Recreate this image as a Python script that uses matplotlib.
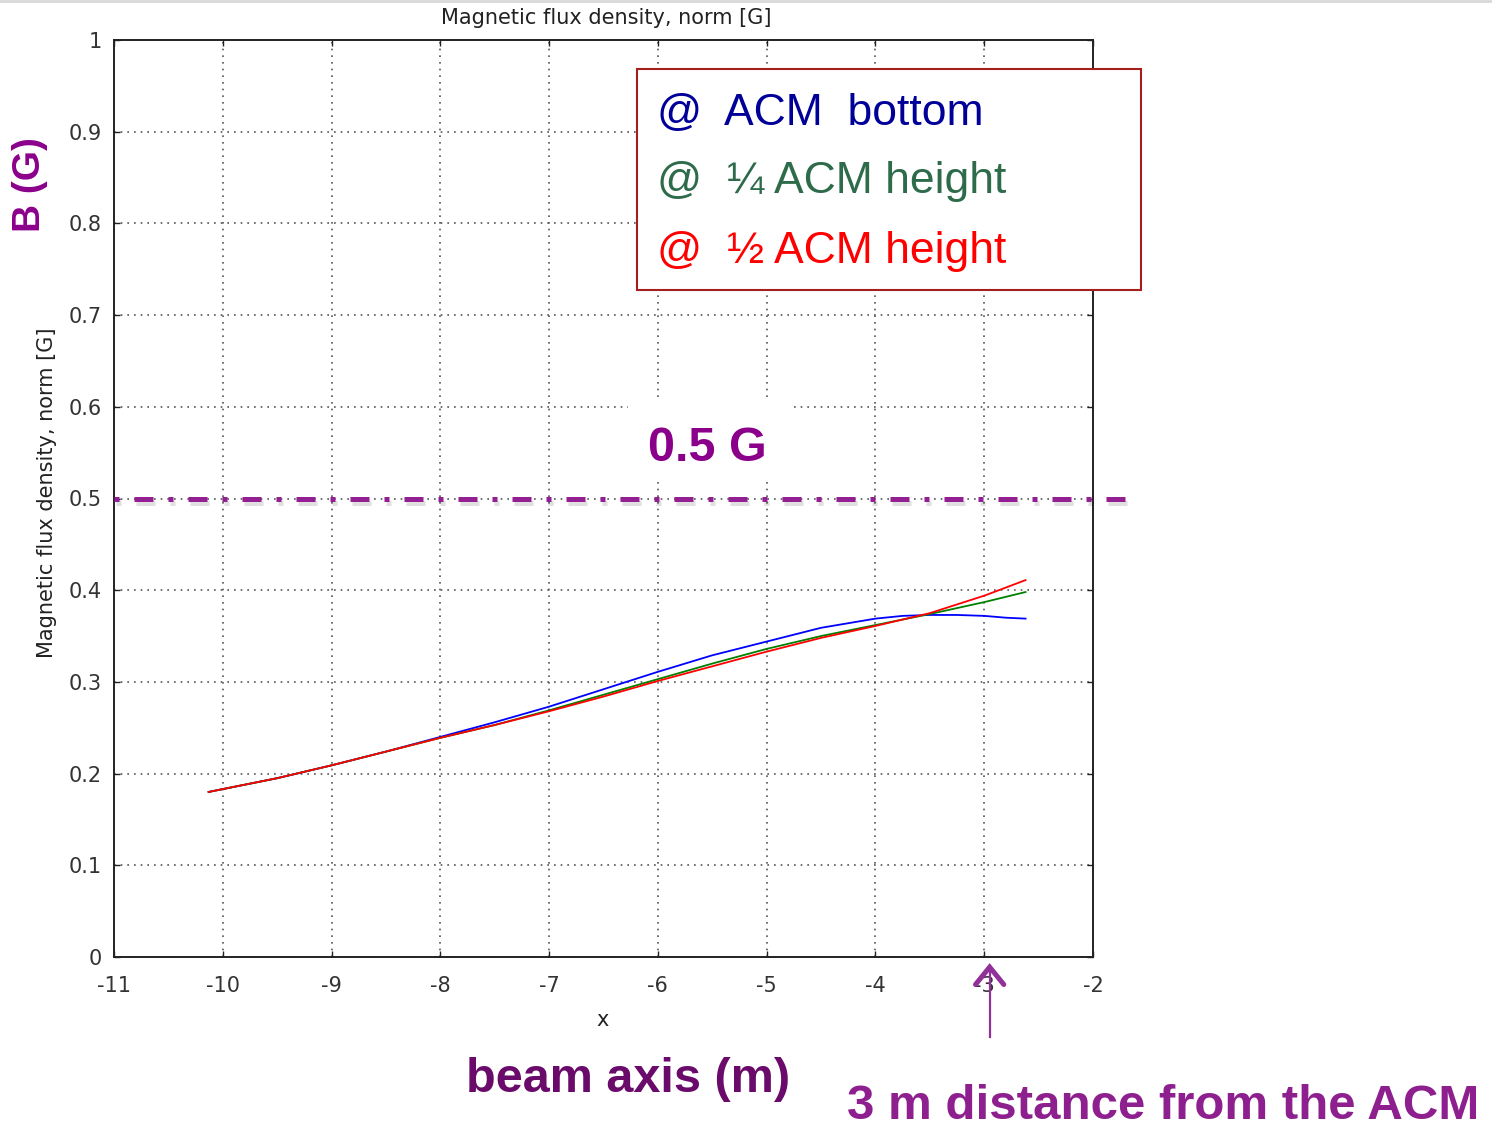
import numpy as np
import matplotlib
matplotlib.use("Agg")
import matplotlib.pyplot as plt
import matplotlib.patheffects as pe
from matplotlib.patches import Rectangle
from matplotlib.lines import Line2D

# field along the beam axis, three heights
x_bottom = [-10.13, -9.5, -9.0, -8.5, -8.0, -7.5, -7.0, -6.5, -6.0, -5.5, -5.0,
            -4.5, -4.0, -3.75, -3.5, -3.25, -3.0, -2.8, -2.62]
b_bottom = [0.180, 0.195, 0.209, 0.224, 0.240, 0.256, 0.273, 0.292, 0.311, 0.329, 0.344,
            0.359, 0.369, 0.372, 0.373, 0.373, 0.372, 0.370, 0.369]

x_quarter = [-10.13, -9.5, -9.0, -8.5, -8.0, -7.5, -7.0, -6.5, -6.0, -5.5, -5.0,
             -4.5, -4.0, -3.5, -3.0, -2.62]
b_quarter = [0.180, 0.195, 0.209, 0.224, 0.239, 0.253, 0.269, 0.286, 0.303, 0.320, 0.336,
             0.350, 0.362, 0.374, 0.387, 0.398]

x_half = [-10.13, -9.5, -9.0, -8.5, -8.0, -7.5, -7.0, -6.5, -6.0, -5.5, -5.0,
          -4.5, -4.0, -3.5, -3.0, -2.62]
b_half = [0.180, 0.195, 0.209, 0.224, 0.239, 0.253, 0.268, 0.284, 0.301, 0.317, 0.333,
          0.348, 0.361, 0.375, 0.394, 0.411]

limit_b = 0.5
xticks = list(range(-11, -1))
yticks = [0, 0.1, 0.2, 0.3, 0.4, 0.5, 0.6, 0.7, 0.8, 0.9, 1]
ytick_labels = ["0", "0.1", "0.2", "0.3", "0.4", "0.5", "0.6", "0.7", "0.8", "0.9", "1"]

W, H = 1492, 1128
fig = plt.figure(figsize=(W / 100, H / 100), dpi=100)
fig.patch.set_facecolor("white")

def fx(px):
    return px / W

def fy(py):
    return 1 - py / H

ax = fig.add_axes([fx(114), fy(957), fx(1093) - fx(114), fy(40) - fy(957)])
ax.set_xlim(-11, -2)
ax.set_ylim(0, 1)
ax.set_xticks(xticks)
ax.set_xticklabels([str(t) for t in xticks])
ax.set_yticks(yticks)
ax.set_yticklabels(ytick_labels)
ax.tick_params(direction="in", length=4.5, width=1.0, top=True, right=True,
               labelsize=15, labelcolor="#333333", color="#222222")
ax.tick_params(axis="x", pad=14)
ax.tick_params(axis="y", pad=9)
for s in ax.spines.values():
    s.set_linewidth(1.4)
    s.set_color("#222222")
ax.grid(True, color="#555555", linestyle=(0, (1, 3)), linewidth=1.2)
ax.set_axisbelow(True)

ax.plot(x_bottom, b_bottom, color="#0000ff", lw=1.3, zorder=3)
ax.plot(x_quarter, b_quarter, color="#008000", lw=1.3, zorder=4)
ax.plot(x_half, b_half, color="#ff0000", lw=1.3, zorder=5)

# 0.5 G limit, runs a little past the frame
limit = Line2D([-11, -1.63], [limit_b, limit_b], color="#931f93", lw=3.6,
               linestyle=(0, (1.0, 3.0, 3.8, 3.0)), clip_on=False, zorder=6,
               transform=ax.transData)
limit.set_path_effects([pe.SimpleLineShadow(offset=(1.5, -3), shadow_color="k", alpha=0.12),
                        pe.Normal()])
ax.add_artist(limit)

fig.text(fx(606), fy(18), "Magnetic flux density, norm [G]", ha="center", va="center",
         fontsize=15, color="#222222", family="DejaVu Sans")
fig.text(fx(47), fy(493), "Magnetic flux density, norm [G]", ha="center", va="center",
         rotation=90, fontsize=15, color="#222222", family="DejaVu Sans")
fig.text(fx(603), fy(1020), "x", ha="center", va="center", fontsize=15,
         color="#222222", family="DejaVu Sans")

purple = "#8b008b"
fig.text(fx(30), fy(185), "B (G)", ha="center", va="center", rotation=90,
         fontsize=28, fontweight="bold", color=purple, family="Liberation Sans")
fig.add_artist(Rectangle((fx(628), fy(482)), fx(790) - fx(628), fy(400) - fy(482),
                         transform=fig.transFigure, facecolor="white",
                         edgecolor="none", zorder=7))
fig.text(fx(707), fy(461), "0.5 G", ha="center", va="baseline", fontsize=35,
         fontweight="bold", color=purple, family="Liberation Sans", zorder=8)
fig.text(fx(628), fy(1092), "beam axis (m)", ha="center", va="baseline", fontsize=35,
         fontweight="bold", color="#6a0a6a", family="Liberation Sans")
fig.text(fx(847), fy(1119), "3 m distance from the ACM", ha="left", va="baseline",
         fontsize=35.5, fontweight="bold", color="#8e1f8e", family="Liberation Sans")

# arrow pointing at -3 m
arrow_c = "#92309a"
ax.add_line(Line2D([-2.95, -2.95], [-0.087, -0.013], color=arrow_c, lw=1.6,
                   clip_on=False))
ax.add_line(Line2D([-3.08, -2.95, -2.82], [-0.030, -0.011, -0.030], color=arrow_c,
                   lw=3.6, solid_capstyle="round", solid_joinstyle="miter",
                   clip_on=False))

# legend box
fig.add_artist(Rectangle((fx(637), fy(290)), fx(1141) - fx(637), fy(69) - fy(290),
                         transform=fig.transFigure, facecolor="white",
                         edgecolor="#a3201c", lw=1.5, zorder=8))
rows = [("ACM  bottom", "#000099", 125, 724),
        ("\u00bc ACM height", "#2d6b4b", 193, 727),
        ("\u00bd ACM height", "#ff0000", 263, 727)]
for label, col, base, x0 in rows:
    fig.text(fx(656), fy(base), "@", ha="left", va="baseline", fontsize=32,
             color=col, family="Liberation Sans", zorder=9)
    fig.text(fx(x0), fy(base), label, ha="left", va="baseline", fontsize=32,
             color=col, family="Liberation Sans", zorder=9)

fig.add_artist(Line2D([0, 1], [0.999, 0.999], color="#d8d8d8", lw=2,
                      transform=fig.transFigure))

fig.savefig("out.png", dpi=100)
